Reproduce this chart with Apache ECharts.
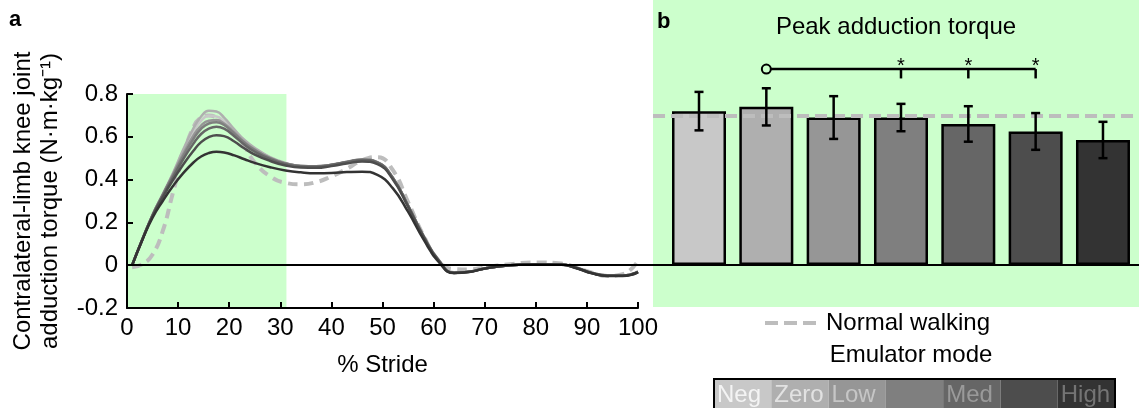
<!DOCTYPE html>
<html><head><meta charset="utf-8">
<script src="https://cdn.jsdelivr.net/npm/echarts@6/dist/echarts.min.js"></script>
<style>html,body{margin:0;padding:0;background:#fff}#c{width:1139px;height:408px}</style>
</head><body><div id="c"></div>
<script>
// ---- data ----
const STRIDE_PCT = [1,3,5,7,9,11,13,14.5,16,17.5,19,21,23,25,28,31,34,37,40,43,46,49,52,55,58,61,64,67,70,75,80,85,88,91,94,97,100];
const CURVE_NORMAL = [-0.01,0.005,0.05,0.16,0.34,0.51,0.645,0.69,0.70,0.69,0.665,0.625,0.555,0.48,0.415,0.385,0.378,0.388,0.415,0.45,0.49,0.505,0.445,0.295,0.14,0.02,-0.018,-0.02,-0.01,0.005,0.013,0.008,-0.012,-0.035,-0.05,-0.042,0.02];
const CURVE_NEG  = [0,0.12,0.235,0.33,0.43,0.535,0.625,0.675,0.698,0.695,0.672,0.625,0.578,0.543,0.502,0.476,0.462,0.46,0.468,0.48,0.49,0.477,0.405,0.275,0.135,0.022,-0.034,-0.03,-0.015,0,0.005,0.003,-0.013,-0.036,-0.048,-0.048,-0.03];
const CURVE_ZERO = [0,0.12,0.235,0.33,0.43,0.54,0.64,0.695,0.722,0.718,0.69,0.635,0.585,0.548,0.505,0.478,0.464,0.462,0.47,0.482,0.493,0.48,0.41,0.28,0.14,0.025,-0.033,-0.03,-0.015,0,0.005,0.003,-0.012,-0.035,-0.047,-0.048,-0.03];
const CURVE_LOW  = [0,0.12,0.235,0.33,0.425,0.52,0.605,0.652,0.675,0.678,0.662,0.62,0.575,0.54,0.5,0.475,0.463,0.461,0.469,0.481,0.492,0.479,0.408,0.278,0.137,0.023,-0.035,-0.03,-0.015,0,0.005,0.003,-0.013,-0.036,-0.048,-0.048,-0.03];
const CURVE_M4   = [0,0.12,0.235,0.33,0.42,0.51,0.59,0.637,0.662,0.668,0.655,0.615,0.572,0.538,0.5,0.476,0.464,0.462,0.47,0.483,0.494,0.481,0.41,0.28,0.138,0.023,-0.035,-0.031,-0.015,0,0.005,0.003,-0.013,-0.036,-0.048,-0.048,-0.03];
const CURVE_MED  = [0,0.12,0.232,0.325,0.41,0.495,0.568,0.613,0.638,0.647,0.638,0.603,0.563,0.53,0.495,0.472,0.461,0.46,0.468,0.481,0.492,0.479,0.408,0.278,0.136,0.022,-0.036,-0.031,-0.015,0,0.005,0.003,-0.013,-0.037,-0.049,-0.049,-0.032];
const CURVE_M6   = [0,0.12,0.23,0.318,0.398,0.47,0.535,0.575,0.598,0.607,0.603,0.578,0.545,0.517,0.487,0.466,0.456,0.455,0.463,0.475,0.485,0.472,0.402,0.273,0.133,0.02,-0.036,-0.031,-0.015,0,0.005,0.003,-0.013,-0.037,-0.049,-0.049,-0.032];
const CURVE_HIGH = [0,0.118,0.222,0.3,0.37,0.43,0.48,0.508,0.524,0.53,0.527,0.513,0.495,0.478,0.458,0.443,0.434,0.43,0.431,0.435,0.437,0.422,0.36,0.25,0.122,0.015,-0.037,-0.032,-0.016,0,0.004,0.002,-0.014,-0.038,-0.05,-0.05,-0.033];

const MODES = ['Neg','Zero','Low','','Med','','High'];
const MODE_COLORS = ['#c8c8c8','#afafaf','#969696','#7f7f7f','#666666','#4d4d4d','#333333'];
const MODE_TEXT_COLORS = ['#f4f4f4','#e2e2e2','#c6c6c6','#aaaaaa','#9a9a9a','#7a7a7a','#747474'];
const PEAK_MEAN = [0.72,0.74,0.69,0.69,0.66,0.625,0.585];
const PEAK_ERR  = [0.09,0.087,0.10,0.064,0.083,0.086,0.085];
const NORMAL_PEAK = 0.70;
const SIG_REF = 2;           // reference mode (1-based position): Zero
const SIG_MODES = [4,5,6];   // significantly different modes
const STANCE_END = 31.2;     // shaded region end (% stride)
const X_TICK_STEP = 10;
const Y_TICK_STEP = 0.2;

// ---- chart ----
const FONT = '"Liberation Sans", Arial, sans-serif';
const chart = echarts.init(document.getElementById('c'), null, {renderer:'canvas'});
const CURVES = [CURVE_NEG, CURVE_ZERO, CURVE_LOW, CURVE_M4, CURVE_MED, CURVE_M6, CURVE_HIGH];

const series = [];
// stance shading
series.push({type:'line', xAxisIndex:0, yAxisIndex:0, data:[], z:1, silent:true,
  markArea:{silent:true, itemStyle:{color:'#ccffcc', opacity:1},
    data:[[{xAxis:0, yAxis:-0.2},{xAxis:STANCE_END, yAxis:0.8}]]}});
// zero line left
series.push({type:'line', xAxisIndex:0, yAxisIndex:0, data:[], z:2, silent:true,
  markLine:{silent:true, symbol:['none','none'], label:{show:false},
    lineStyle:{color:'#000', type:'solid', width:2}, data:[{yAxis:0}]}});
// normal walking curve
series.push({type:'line', xAxisIndex:0, yAxisIndex:0, smooth:true, symbol:'none', z:3,
  lineStyle:{color:'#bdbdbd', width:4, type:[10,6]},
  data:STRIDE_PCT.map((x,k)=>[x, CURVE_NORMAL[k]])});
CURVES.forEach((arr,i)=>{
  series.push({type:'line', xAxisIndex:0, yAxisIndex:0, smooth:true, symbol:'none', z:4,
    lineStyle:{color:MODE_COLORS[i], width:2.5},
    data:STRIDE_PCT.map((x,k)=>[x, arr[k]])});
});
// normal walking reference line on bar panel
series.push({type:'line', xAxisIndex:1, yAxisIndex:1, data:[], z:2, silent:true,
  markLine:{silent:true, symbol:['none','none'], label:{show:false},
    lineStyle:{color:'#bdbdbd', type:[12,6], width:4},
    data:[[{coord:[0.317, NORMAL_PEAK]},{coord:[7.535, NORMAL_PEAK]}]]}});
// bars
series.push({type:'bar', xAxisIndex:1, yAxisIndex:1, barWidth:54, z:3,
  data:PEAK_MEAN.map((v,i)=>({value:[i+1, v], itemStyle:{color:MODE_COLORS[i], borderColor:'#000', borderWidth:2.5}}))});
// error bars
series.push({type:'custom', xAxisIndex:1, yAxisIndex:1, z:5,
  data:PEAK_MEAN.map((v,i)=>[i+1, v, PEAK_ERR[i]]),
  renderItem:(params, api)=>{
    const x=api.value(0), m=api.value(1), e=api.value(2);
    const t=api.coord([x,m+e]), b=api.coord([x,m-e]); const c=4.5;
    const st={stroke:'#000', lineWidth:2.5};
    return {type:'group', children:[
      {type:'line', shape:{x1:t[0],y1:t[1],x2:b[0],y2:b[1]}, style:st},
      {type:'line', shape:{x1:t[0]-c,y1:t[1],x2:t[0]+c,y2:t[1]}, style:st},
      {type:'line', shape:{x1:b[0]-c,y1:b[1],x2:b[0]+c,y2:b[1]}, style:st}]};
  }});
// significance bracket
series.push({type:'custom', xAxisIndex:1, yAxisIndex:1, z:5, data:[[SIG_REF, 0.917]],
  renderItem:(params, api)=>{
    const y=api.value(1);
    const p0=api.coord([api.value(0), y]);
    const pe=api.coord([SIG_MODES[SIG_MODES.length-1], y]);
    const st={stroke:'#000', lineWidth:2.5};
    const ch=[{type:'line', shape:{x1:p0[0]+4.5,y1:p0[1],x2:pe[0],y2:pe[1]}, style:st},
              {type:'circle', shape:{cx:p0[0], cy:p0[1], r:4.5}, style:{stroke:'#000', lineWidth:2, fill:'#ccffcc'}}];
    SIG_MODES.forEach(m=>{
      const p=api.coord([m, y]); const q=api.coord([m, 0.873]);
      ch.push({type:'line', shape:{x1:p[0],y1:p[1],x2:q[0],y2:q[1]}, style:st});
      ch.push({type:'text', x:p[0], y:p[1]-3, style:{text:'*', fill:'#000', fontSize:20, fontFamily:FONT, align:'center', verticalAlign:'middle'}});
    });
    return {type:'group', children:ch};
  }});

const LEG_X=714, LEG_W=401/7, LEG_Y=379;
const graphic = [
  {type:'rect', z:-10, silent:true, shape:{x:653,y:0,width:486,height:307}, style:{fill:'#ccffcc'}},
  {type:'text', x:9, y:20, style:{text:'a', fill:'#000', font:'bold 22px '+FONT, verticalAlign:'middle'}},
  {type:'text', x:657, y:22, style:{text:'b', fill:'#000', font:'bold 22px '+FONT, verticalAlign:'middle'}},
  {type:'text', x:896, y:27, style:{text:'Peak adduction torque', fill:'#000', font:'24px '+FONT, align:'center', verticalAlign:'middle'}},
  {type:'line', shape:{x1:765,y1:323,x2:818,y2:323}, style:{stroke:'#bdbdbd', lineWidth:4, lineDash:[13,6]}},
  {type:'text', x:826, y:323, style:{text:'Normal walking', fill:'#000', font:'24px '+FONT, verticalAlign:'middle'}},
  {type:'text', x:911, y:355, style:{text:'Emulator mode', fill:'#000', font:'24px '+FONT, align:'center', verticalAlign:'middle'}}
];
MODES.forEach((m,i)=>{
  graphic.push({type:'rect', shape:{x:LEG_X+i*LEG_W, y:LEG_Y, width:LEG_W, height:32}, style:{fill:MODE_COLORS[i]}});
});
MODES.forEach((m,i)=>{
  if (m) graphic.push({type:'text', x:LEG_X+i*LEG_W+3, y:LEG_Y+16, style:{text:m, fill:MODE_TEXT_COLORS[i], font:'24px '+FONT, verticalAlign:'middle'}});
});
graphic.push({type:'rect', shape:{x:LEG_X, y:LEG_Y, width:401, height:32}, style:{fill:'none', stroke:'#000', lineWidth:2}});

const axisTextStyle = {color:'#000', fontSize:24, fontFamily:FONT};
chart.setOption({
  animation:false,
  textStyle:{fontFamily:FONT},
  grid:[{left:127, top:94, width:511, height:214},{left:638, top:0, width:501, height:307.75}],
  xAxis:[
    {gridIndex:0, type:'value', min:0, max:100, interval:X_TICK_STEP, z:6,
     axisLine:{onZero:false, lineStyle:{color:'#000', width:2}},
     axisTick:{inside:true, length:6, lineStyle:{color:'#000', width:2}},
     axisLabel:Object.assign({margin:8}, axisTextStyle),
     splitLine:{show:false},
     name:'% Stride', nameLocation:'middle', nameGap:45, nameTextStyle:axisTextStyle},
    {gridIndex:1, type:'value', min:0.094, max:7.535, z:6,
     axisLine:{onZero:true, lineStyle:{color:'#000', width:2}},
     axisTick:{show:false}, axisLabel:{show:false}, splitLine:{show:false}}
  ],
  yAxis:[
    {gridIndex:0, type:'value', min:-0.2, max:0.8, interval:Y_TICK_STEP, z:6,
     axisLine:{onZero:false, lineStyle:{color:'#000', width:2}},
     axisTick:{inside:true, length:6, lineStyle:{color:'#000', width:2}},
     axisLabel:Object.assign({margin:9, formatter:v=>Math.abs(v)<1e-9?'0':v.toFixed(1)}, axisTextStyle),
     splitLine:{show:false},
     name:'Contralateral-limb knee joint\nadduction torque (N\u00b7m\u00b7kg\u207b\u00b9)', nameLocation:'middle', nameRotate:90, nameGap:63,
     nameTextStyle:Object.assign({lineHeight:27}, axisTextStyle)},
    {gridIndex:1, type:'value', min:-0.2, max:1.24, show:false, splitLine:{show:false}}
  ],
  series:series,
  graphic:graphic
});
</script></body></html>
